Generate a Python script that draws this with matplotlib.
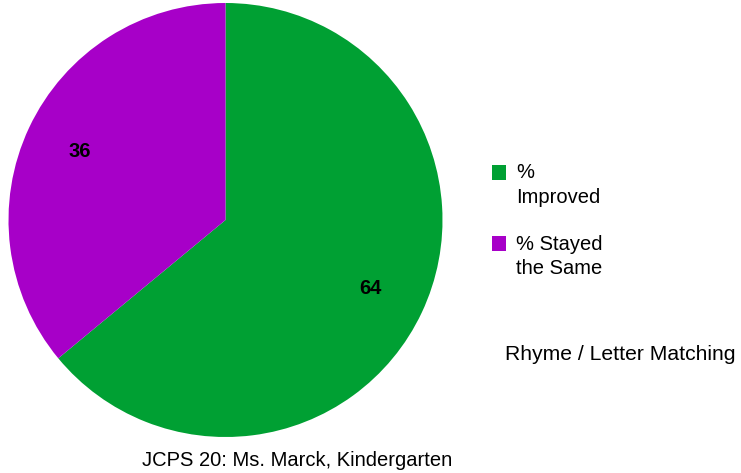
import matplotlib
matplotlib.use("Agg")
import matplotlib.pyplot as plt
from matplotlib.patches import Rectangle

labels = ["%\nImproved", "% Stayed\nthe Same"]
values = [64, 36]
colors = ["#00a033", "#a700c8"]
title = "Rhyme / Letter Matching"
caption = "JCPS 20: Ms. Marck, Kindergarten"

plt.rcParams['font.family'] = ['Liberation Sans', 'DejaVu Sans']

W, H = 741, 473
fig = plt.figure(figsize=(W / 100, H / 100), dpi=100)

cx, cy, r = 225.5, 220, 217
ax = fig.add_axes([(cx - r) / W, (H - cy - r) / H, 2 * r / W, 2 * r / H])
ax.pie(values, colors=colors, startangle=90, counterclock=False,
       autopct=lambda p: f"{p:.0f}", pctdistance=0.74, radius=1,
       textprops=dict(fontsize=14.5, fontweight='bold', color='black'),
       wedgeprops=dict(linewidth=0))
ax.set_xlim(-1, 1)
ax.set_ylim(-1, 1)
ax.set_aspect('equal')
ax.axis('off')

# legend, drawn by hand so the swatch lines up with the first text line
for i, (lab, c) in enumerate(zip(labels, colors)):
    y0 = 173 + i * 71
    fig.patches.append(Rectangle((492 / W, 1 - (y0 + 7.5) / H), 14 / W, 15 / H,
                                 transform=fig.transFigure, facecolor=c,
                                 edgecolor='none'))
    for j, line in enumerate(lab.split("\n")):
        fig.text(516 / W, 1 - (y0 + j * 24) / H, line, fontsize=14.5,
                 va='center', ha='left')

fig.text(505 / W, 1 - 355 / H, title, fontsize=15.2, va='center', ha='left')
fig.text(142 / W, 1 - 460 / H, caption, fontsize=14.5, va='center', ha='left')

fig.savefig("out.png", dpi=100)
